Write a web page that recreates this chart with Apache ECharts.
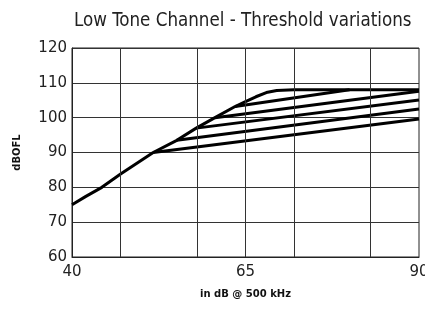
<!DOCTYPE html>
<html>
<head>
<meta charset="utf-8">
<script src="https://cdn.jsdelivr.net/npm/echarts@6/dist/echarts.min.js"></script>
<style>
  html, body { margin: 0; padding: 0; background: #fff; }
  #chart { width: 425px; height: 311px; }
</style>
</head>
<body>
<div id="chart"></div>
<script>
  // main response curve
  var mainX = [40, 42, 44.3, 47, 51.7, 55.1, 57.9, 60.6, 63.5, 65, 66.5, 68, 69.5, 72, 90]
  var mainY = [75, 77.4, 80, 83.8, 90, 93.5, 97, 100, 103.2, 104.6, 106.0, 107.2, 107.8, 108, 108]

  // threshold variation lines: start and end points
  var startX = [51.7, 55.1, 57.9, 60.6, 63.5]
  var startY = [90, 93.5, 97, 100, 103.2]
  var endX = [90, 90, 90, 90, 80]
  var endY = [99.6, 102.5, 105.1, 107.6, 108]

  // vertical grid positions and labelled x ticks
  var gridX = [47, 58, 65, 72, 83]
  var xLabels = [40, 65, 90]

  var chart = echarts.init(document.getElementById('chart'))

  var series = []
  // grid lines drawn under the curves
  series.push({
    type: 'line',
    data: [],
    z: 1,
    silent: true,
    markLine: {
      silent: true,
      symbol: 'none',
      label: { show: false },
      lineStyle: { color: '#333', width: 1, type: 'solid' },
      data: gridX.map(function (v) { return { xAxis: v } })
    }
  })

  series.push({
    type: 'line',
    z: 3,
    symbol: 'none',
    lineStyle: { color: '#000', width: 3, join: 'round' },
    data: mainX.map(function (x, i) { return [x, mainY[i]] })
  })

  for (var i = 0; i < startX.length; i++) {
    series.push({
      type: 'line',
      z: 3,
      symbol: 'none',
      lineStyle: { color: '#000', width: 3 },
      data: [[startX[i], startY[i]], [endX[i], endY[i]]]
    })
  }

  var option = {
    animation: false,
    title: {
      text: 'Low Tone Channel - Threshold variations',
      left: 69,
      top: 7,
      textStyle: {
        fontFamily: 'Liberation Sans Narrow, DejaVu Sans Condensed, sans-serif',
        fontWeight: 'normal',
        fontSize: 18.6,
        color: '#222'
      }
    },
    grid: {
      left: 72,
      right: 6,
      top: 48,
      bottom: 54,
      outerBoundsMode: 'none',
      show: true,
      borderColor: '#222',
      borderWidth: 1
    },
    xAxis: {
      type: 'value',
      min: 40,
      max: 90,
      name: 'in dB @ 500 kHz',
      nameLocation: 'middle',
      nameGap: 32,
      nameTextStyle: { fontFamily: 'DejaVu Sans', fontWeight: 'bold', fontSize: 10, color: '#111' },
      axisLine: { show: true, lineStyle: { color: '#222', width: 1 } },
      axisTick: { show: false },
      splitLine: { show: false },
      axisLabel: {
        customValues: xLabels,
        margin: 8,
        fontFamily: 'DejaVu Sans',
        fontSize: 15,
        color: '#222'
      }
    },
    yAxis: {
      type: 'value',
      min: 60,
      max: 120,
      interval: 10,
      name: 'dBOFL',
      nameLocation: 'middle',
      nameGap: 50,
      nameRotate: 90,
      nameTextStyle: { fontFamily: 'DejaVu Sans', fontWeight: 'bold', fontSize: 10, color: '#111' },
      axisLine: { show: true, lineStyle: { color: '#222', width: 1 } },
      axisTick: { show: false },
      splitLine: { show: true, lineStyle: { color: '#333', width: 1 } },
      axisLabel: {
        margin: 5,
        fontFamily: 'DejaVu Sans',
        fontSize: 15,
        color: '#222'
      }
    },
    series: series
  }

  chart.setOption(option)
</script>
</body>
</html>
